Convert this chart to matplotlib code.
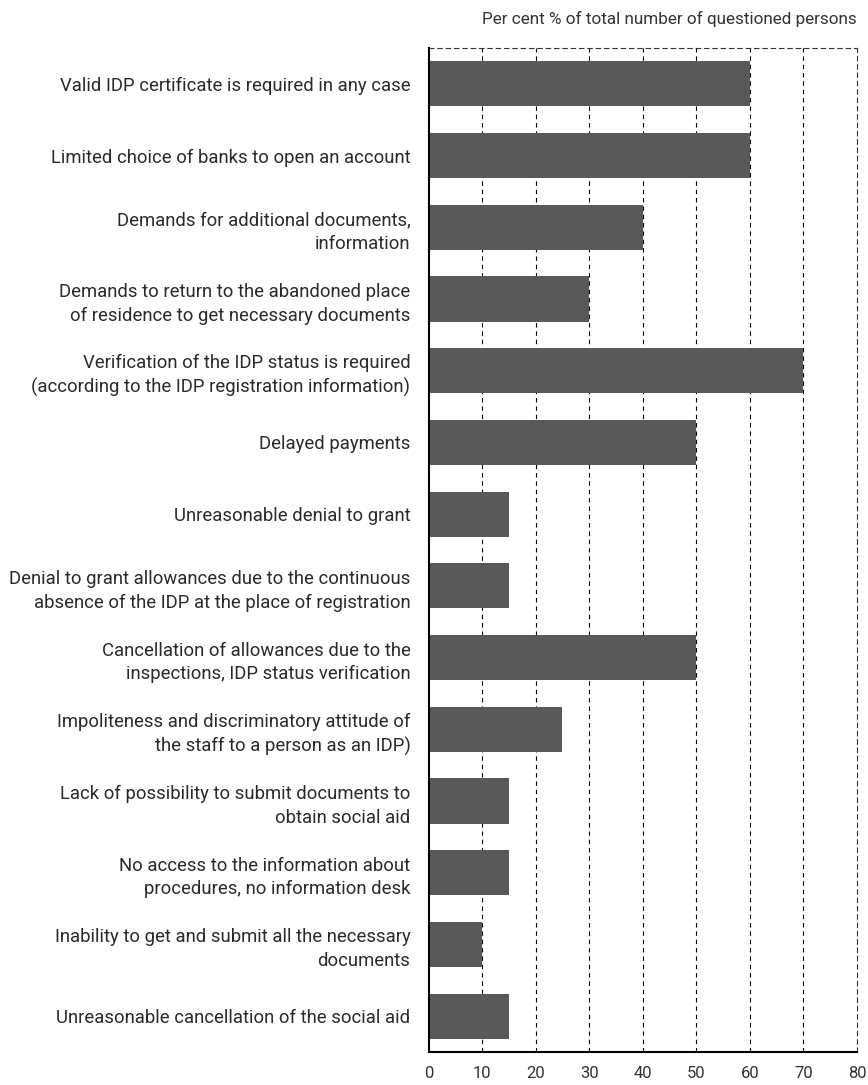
import matplotlib
matplotlib.use("Agg")
import matplotlib.pyplot as plt

categories = [
    "Valid IDP certificate is required in any case",
    "Limited choice of banks to open an account",
    "Demands for additional documents,\ninformation",
    "Demands to return to the abandoned place\nof residence to get necessary documents",
    "Verification of the IDP status is required\n(according to the IDP registration information)",
    "Delayed payments",
    "Unreasonable denial to grant",
    "Denial to grant allowances due to the continuous\nabsence of the IDP at the place of registration",
    "Cancellation of allowances due to the\ninspections, IDP status verification",
    "Impoliteness and discriminatory attitude of\nthe staff to a person as an IDP)",
    "Lack of possibility to submit documents to\nobtain social aid",
    "No access to the information about\nprocedures, no information desk",
    "Inability to get and submit all the necessary\ndocuments",
    "Unreasonable cancellation of the social aid",
]
values = [60, 60, 40, 30, 70, 50, 15, 15, 50, 25, 15, 15, 10, 15]
xticks = [0, 10, 20, 30, 40, 50, 60, 70, 80]
title = "Per cent % of total number of questioned persons"

plt.rcParams['font.family'] = ['Roboto', 'DejaVu Sans']

fig = plt.figure(figsize=(8.68, 10.85), dpi=100)
ax = fig.add_axes([0.4937, 0.0304, 0.9873 - 0.4937, 0.9558 - 0.0304])

ypos = list(range(len(categories)))
ax.barh(ypos, values, height=0.63, color='#595959', zorder=3)
ax.set_ylim(len(categories) - 0.5, -0.5)
ax.set_xlim(0, 80)
ax.set_yticks(ypos)
ax.set_yticklabels(categories, fontsize=13.3, color='#2a2a2a', linespacing=1.4)
ax.set_xticks(xticks)
ax.set_xticklabels([str(t) for t in xticks], fontsize=12, color='#333333')
ax.tick_params(axis='y', length=0, pad=13)
ax.tick_params(axis='x', length=0, pad=10)

for x in xticks[1:-1]:
    ax.axvline(x, color='black', lw=0.8, ls=(0, (4, 3.5)), zorder=1)

for s in ['top', 'right']:
    ax.spines[s].set_linestyle((0, (4, 3.5)))
    ax.spines[s].set_linewidth(0.8)
    ax.spines[s].set_color('#333333')
ax.spines['left'].set_linewidth(1.5)
ax.spines['bottom'].set_linewidth(1.5)
ax.spines['left'].set_zorder(4)

fig.text(0.9873, 0.9825, title, ha='right', va='center', fontsize=12.3, color='#333333')

fig.savefig('out.png', dpi=100)
